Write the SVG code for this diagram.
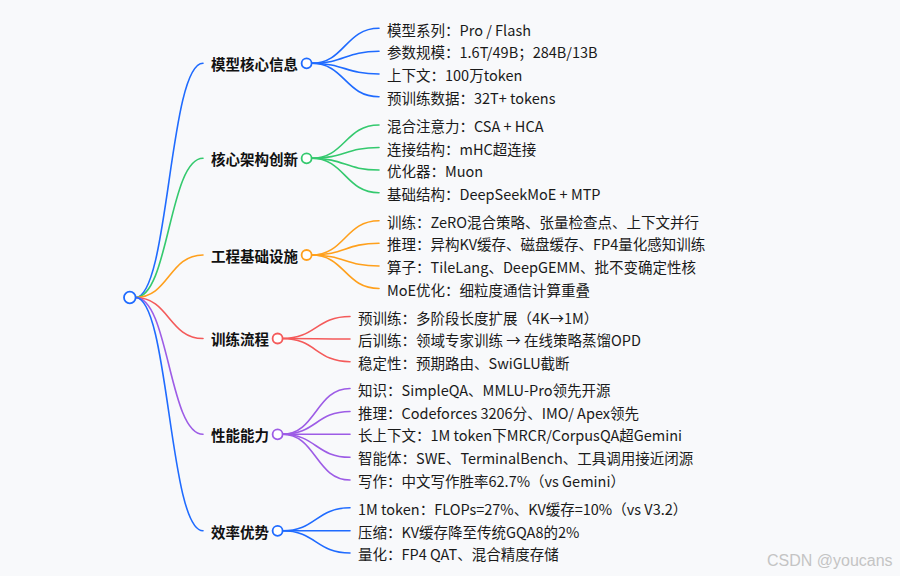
<svg xmlns="http://www.w3.org/2000/svg" width="900" height="576" viewBox="0 0 900 576">
<style>
.bg{fill:#f8f9fb}
.ln{fill:none;stroke-width:1.6;stroke-linecap:round}
.c1{stroke:#1f6bff}.c2{stroke:#34c96e}.c3{stroke:#ffa01c}.c4{stroke:#f45a5a}.c5{stroke:#9d5ce6}.c6{stroke:#1f6bff}
.dot{fill:#ffffff;stroke-width:1.8}
.br{font-family:"Noto Sans CJK SC","Noto Sans",sans-serif;font-size:14.5px;font-weight:bold;fill:#111;dominant-baseline:central}
.lf{font-family:"Noto Sans CJK SC","Noto Sans",sans-serif;font-size:14.5px;fill:#1a1a1a;dominant-baseline:central}
.wm{font-family:"Liberation Sans",Arial,sans-serif;font-size:16px;fill:#c4c4c4}
</style>
<rect class="bg" x="0" y="0" width="900" height="576"/>
<g id="connectors">
  <path class="ln c1" d="M135.5 297.5 C169 297.5,169 63.3,203 63.3"/>
  <path class="ln c2" d="M135.5 297.5 C169 297.5,169 158.3,203 158.3"/>
  <path class="ln c3" d="M135.5 297.5 C169 297.5,169 255,203 255"/>
  <path class="ln c4" d="M135.5 297.5 C169 297.5,169 338.5,203 338.5"/>
  <path class="ln c5" d="M135.5 297.5 C169 297.5,169 434.3,203 434.3"/>
  <path class="ln c6" d="M135.5 297.5 C169 297.5,169 530.8,203 530.8"/>
  <path class="ln c1" d="M311.5 63.3 C345 63.3,345 28.3,379 28.3"/>
  <path class="ln c1" d="M311.5 63.3 C345 63.3,345 51.3,379 51.3"/>
  <path class="ln c1" d="M311.5 63.3 C345 63.3,345 74,379 74"/>
  <path class="ln c1" d="M311.5 63.3 C345 63.3,345 96.7,379 96.7"/>
  <path class="ln c2" d="M311.5 158.3 C345 158.3,345 125,379 125"/>
  <path class="ln c2" d="M311.5 158.3 C345 158.3,345 147.5,379 147.5"/>
  <path class="ln c2" d="M311.5 158.3 C345 158.3,345 170,379 170"/>
  <path class="ln c2" d="M311.5 158.3 C345 158.3,345 192.7,379 192.7"/>
  <path class="ln c3" d="M311.5 255 C345 255,345 220.7,379 220.7"/>
  <path class="ln c3" d="M311.5 255 C345 255,345 243.3,379 243.3"/>
  <path class="ln c3" d="M311.5 255 C345 255,345 266,379 266"/>
  <path class="ln c3" d="M311.5 255 C345 255,345 288.5,379 288.5"/>
  <path class="ln c4" d="M282.5 338.5 C316 338.5,316 316.5,350 316.5"/>
  <path class="ln c4" d="M282.5 338.5 C316 338.5,316 339,350 339"/>
  <path class="ln c4" d="M282.5 338.5 C316 338.5,316 361.7,350 361.7"/>
  <path class="ln c5" d="M282.5 434.3 C316 434.3,316 388.5,350 388.5"/>
  <path class="ln c5" d="M282.5 434.3 C316 434.3,316 411.5,350 411.5"/>
  <path class="ln c5" d="M282.5 434.3 C316 434.3,316 434.3,350 434.3"/>
  <path class="ln c5" d="M282.5 434.3 C316 434.3,316 457.3,350 457.3"/>
  <path class="ln c5" d="M282.5 434.3 C316 434.3,316 480,350 480"/>
  <path class="ln c6" d="M282.5 530.8 C316 530.8,316 507.8,350 507.8"/>
  <path class="ln c6" d="M282.5 530.8 C316 530.8,316 530.8,350 530.8"/>
  <path class="ln c6" d="M282.5 530.8 C316 530.8,316 553,350 553"/>
</g>
<g id="root"><circle class="dot c1" cx="129.8" cy="297.5" r="5.8"/></g>
<g id="b1"><text class="br" x="211" y="63.5">模型核心信息</text><circle class="dot c1" cx="306.6" cy="63.3" r="5"/></g>
<g id="b2"><text class="br" x="211" y="158.5">核心架构创新</text><circle class="dot c2" cx="306.6" cy="158.3" r="5"/></g>
<g id="b3"><text class="br" x="211" y="255">工程基础设施</text><circle class="dot c3" cx="306.6" cy="255" r="5"/></g>
<g id="b4"><text class="br" x="211" y="338.5">训练流程</text><circle class="dot c4" cx="277.6" cy="338.5" r="5"/></g>
<g id="b5"><text class="br" x="211" y="434.5">性能能力</text><circle class="dot c5" cx="277.6" cy="434.3" r="5"/></g>
<g id="b6"><text class="br" x="211" y="531">效率优势</text><circle class="dot c6" cx="277.6" cy="530.8" r="5"/></g>
<g id="l1a"><text class="lf" x="387" y="29">模型系列：Pro / Flash</text></g>
<g id="l1b"><text class="lf" x="387" y="51.8">参数规模：1.6T/49B；284B/13B</text></g>
<g id="l1c"><text class="lf" x="387" y="74.5">上下文：100万token</text></g>
<g id="l1d"><text class="lf" x="387" y="97.2">预训练数据：32T+ tokens</text></g>
<g id="l2a"><text class="lf" x="387" y="125.5">混合注意力：CSA + HCA</text></g>
<g id="l2b"><text class="lf" x="387" y="148">连接结构：mHC超连接</text></g>
<g id="l2c"><text class="lf" x="387" y="170.5">优化器：Muon</text></g>
<g id="l2d"><text class="lf" x="387" y="193.2">基础结构：DeepSeekMoE + MTP</text></g>
<g id="l3a"><text class="lf" x="387" y="221.2">训练：ZeRO混合策略、张量检查点、上下文并行</text></g>
<g id="l3b"><text class="lf" x="387" y="243.8">推理：异构KV缓存、磁盘缓存、FP4量化感知训练</text></g>
<g id="l3c"><text class="lf" x="387" y="266.5">算子：TileLang、DeepGEMM、批不变确定性核</text></g>
<g id="l3d"><text class="lf" x="387" y="289">MoE优化：细粒度通信计算重叠</text></g>
<g id="l4a"><text class="lf" x="358" y="317">预训练：多阶段长度扩展（4K→1M）</text></g>
<g id="l4b"><text class="lf" x="358" y="339.5">后训练：领域专家训练 → 在线策略蒸馏OPD</text></g>
<g id="l4c"><text class="lf" x="358" y="362.2">稳定性：预期路由、SwiGLU截断</text></g>
<g id="l5a"><text class="lf" x="358" y="389">知识：SimpleQA、MMLU-Pro领先开源</text></g>
<g id="l5b"><text class="lf" x="358" y="412">推理：Codeforces 3206分、IMO/ Apex领先</text></g>
<g id="l5c"><text class="lf" x="358" y="434.8">长上下文：1M token下MRCR/CorpusQA超Gemini</text></g>
<g id="l5d"><text class="lf" x="358" y="457.8">智能体：SWE、TerminalBench、工具调用接近闭源</text></g>
<g id="l5e"><text class="lf" x="358" y="480.5">写作：中文写作胜率62.7%（vs Gemini）</text></g>
<g id="l6a"><text class="lf" x="358" y="508.3">1M token：FLOPs=27%、KV缓存=10%（vs V3.2）</text></g>
<g id="l6b"><text class="lf" x="358" y="531.3">压缩：KV缓存降至传统GQA8的2%</text></g>
<g id="l6c"><text class="lf" x="358" y="553.5">量化：FP4 QAT、混合精度存储</text></g>
<text class="wm" x="767" y="566">CSDN @youcans</text>
</svg>
